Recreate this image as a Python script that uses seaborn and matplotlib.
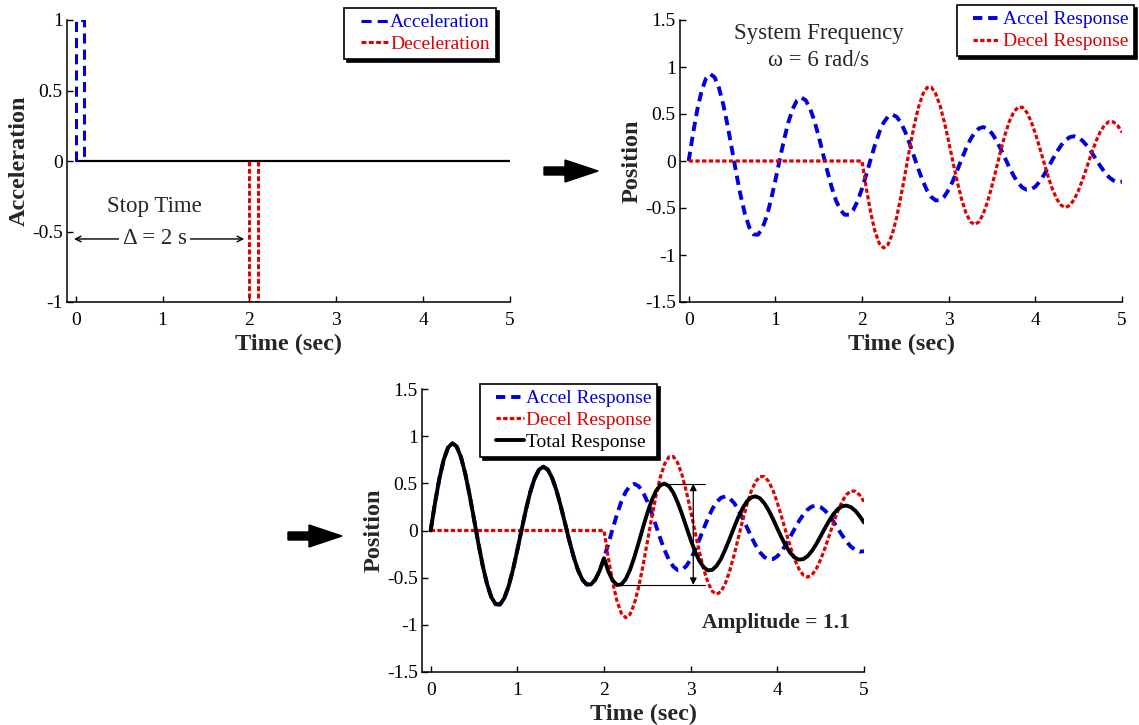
import numpy as np
import pandas as pd
import matplotlib
matplotlib.use("Agg")
import matplotlib.pyplot as plt
import seaborn as sns
from matplotlib.patches import FancyArrow
from matplotlib.ticker import FuncFormatter
from matplotlib.lines import Line2D
from matplotlib.legend_handler import HandlerLine2D

sns.set_style("ticks")
plt.rcParams["font.family"] = ["Liberation Serif", "DejaVu Serif"]
plt.rcParams["axes.unicode_minus"] = False

# ---------------- data ----------------
# acceleration pulses (top-left)
accel_pulse_t = [0.0, 0.0, 0.1, 0.1]
accel_pulse_a = [0.0, 1.0, 1.0, 0.0]
decel_pulse_t = [2.0, 2.0, 2.1, 2.1]
decel_pulse_a = [0.0, -1.0, -1.0, 0.0]
zero_t = [0.0, 5.0]
zero_a = [0.0, 0.0]

# sampled response to the acceleration pulse, every 0.05 s from 0 to 5 s
time_s = np.linspace(0.0, 5.0, 101)
accel_response = [
    0.000, 0.291, 0.548, 0.749, 0.878, 0.925, 0.890, 0.777, 0.599, 0.373,
    0.121, -0.134, -0.370, -0.566, -0.707, -0.781, -0.784, -0.717, -0.590, -0.414,
    -0.207, 0.012, 0.224, 0.410, 0.554, 0.645, 0.676, 0.647, 0.561, 0.429,
    0.263, 0.078, -0.108, -0.279, -0.420, -0.520, -0.572, -0.571, -0.520, -0.425,
    -0.294, -0.142, 0.018, 0.172, 0.306, 0.409, 0.473, 0.494, 0.470, 0.406,
    0.307, 0.185, 0.050, -0.086, -0.210, -0.312, -0.383, -0.419, -0.416, -0.377,
    -0.305, -0.209, -0.097, 0.020, 0.131, 0.228, 0.302, 0.347, 0.361, 0.342,
    0.293, 0.220, 0.129, 0.031, -0.068, -0.158, -0.231, -0.282, -0.306, -0.303,
    -0.273, -0.219, -0.148, -0.066, 0.019, 0.100, 0.170, 0.223, 0.255, 0.263,
    0.248, 0.211, 0.157, 0.091, 0.018, -0.054, -0.119, -0.172, -0.207, -0.224,
    -0.220,
]
stop_time = 2.0
shift = int(round(stop_time / 0.05))
accel_arr = np.array(accel_response)
# deceleration response: same response, inverted, starting at the stop time
decel_response = np.concatenate([np.zeros(shift), -accel_arr[: len(accel_arr) - shift]])
total_response = accel_arr + decel_response

df = pd.DataFrame({"t": time_s, "accel": accel_arr, "decel": decel_response,
                   "total": total_response})

BLUE = "#0000dd"
RED = "#e00000"
DASH_B = (0, (2.4, 1.5))
DASH_R = (0, (1.35, 0.75))

# ---------------- figure ----------------
W, H = 1139, 725
fig = plt.figure(figsize=(W / 100, H / 100), dpi=100)
ax1 = fig.add_axes([67 / W, 1 - 302 / H, 443 / W, 282 / H])
ax2 = fig.add_axes([680 / W, 1 - 302 / H, 442 / W, 282 / H])
ax3 = fig.add_axes([422 / W, 1 - 672 / H, 442 / W, 283 / H])

fmt = FuncFormatter(lambda v, _: f"{v:g}")


def style(ax, ylim, yticks, ylabel):
    ax.set_xlim(-0.1, 5)
    ax.set_ylim(*ylim)
    ax.set_xticks([0, 1, 2, 3, 4, 5])
    ax.set_yticks(yticks)
    ax.xaxis.set_major_formatter(fmt)
    ax.yaxis.set_major_formatter(fmt)
    for s in ["top", "right"]:
        ax.spines[s].set_visible(False)
    for s in ["left", "bottom"]:
        ax.spines[s].set_color("black")
        ax.spines[s].set_linewidth(1.1)
    ax.tick_params(axis="both", direction="in", length=4, width=1.0,
                   colors="black", labelsize=14)
    ax.tick_params(axis="x", pad=7)
    ax.tick_params(axis="y", pad=3)
    ax.set_xlabel("Time (sec)", fontsize=17.5, fontweight="bold", labelpad=4)
    ax.set_ylabel(ylabel, fontsize=17.5, fontweight="bold", labelpad=2)


def legend(ax, loc, anchor):
    leg = ax.legend(loc=loc, bbox_to_anchor=anchor, borderaxespad=0,
                    frameon=True, fancybox=False,
                    shadow={"facecolor": "black", "edgecolor": "black", "alpha": 1.0},
                    edgecolor="black", framealpha=1.0, labelcolor="linecolor",
                    fontsize=14, handlelength=1.95, handletextpad=0.12,
                    borderpad=0.3, labelspacing=0.22,
                    handler_map={Line2D: HandlerLine2D(xpad=0.55)})
    leg.get_frame().set_linewidth(1.2)
    return leg


# ---- top-left: acceleration pulses ----
sns.lineplot(x=zero_t, y=zero_a, ax=ax1, color="black", lw=1.6,
             estimator=None, sort=False)
sns.lineplot(x=accel_pulse_t, y=accel_pulse_a, ax=ax1, color=BLUE, lw=2.2,
             linestyle=(0, (3.3, 2.0)), estimator=None, sort=False, label="Acceleration")
sns.lineplot(x=decel_pulse_t, y=decel_pulse_a, ax=ax1, color=RED, lw=2.2,
             linestyle=(0, (1.6, 0.8)), estimator=None, sort=False, label="Deceleration")
style(ax1, (-1, 1), [-1, -0.5, 0, 0.5, 1], "Acceleration")
legend(ax1, "upper right", (0.968, 1.043))
ax1.annotate("", xy=(-0.02, -0.553), xytext=(1.94, -0.553),
             arrowprops=dict(arrowstyle="<->", lw=1.0, color="black",
                             shrinkA=0, shrinkB=0))
ax1.text(0.91, -0.326, "Stop Time", fontsize=16.5, ha="center", va="center")
ax1.text(0.91, -0.553, "\u0394 = 2 s", fontsize=16.5, ha="center", va="center",
         bbox=dict(facecolor="white", edgecolor="none", pad=2.5))

# ---- top-right: responses ----
sns.lineplot(data=df, x="t", y="accel", ax=ax2, color=BLUE, lw=2.8,
             linestyle=DASH_B, label="Accel Response")
sns.lineplot(data=df, x="t", y="decel", ax=ax2, color=RED, lw=2.3,
             linestyle=DASH_R, label="Decel Response")
style(ax2, (-1.5, 1.5), [-1.5, -1, -0.5, 0, 0.5, 1, 1.5], "Position")
legend(ax2, "upper right", (1.027, 1.053))
ax2.text(1.5, 1.36, "System Frequency", fontsize=16.5, ha="center", va="center")
ax2.text(1.5, 1.07, "\u03c9 = 6 rad/s", fontsize=16.5, ha="center", va="center")

# ---- bottom: total ----
sns.lineplot(data=df, x="t", y="accel", ax=ax3, color=BLUE, lw=2.8,
             linestyle=DASH_B, label="Accel Response")
sns.lineplot(data=df, x="t", y="decel", ax=ax3, color=RED, lw=2.3,
             linestyle=DASH_R, label="Decel Response")
sns.lineplot(data=df, x="t", y="total", ax=ax3, color="black", lw=2.8,
             label="Total Response")
style(ax3, (-1.5, 1.5), [-1.5, -1, -0.5, 0, 0.5, 1, 1.5], "Position")
legend(ax3, "upper left", (0.131, 1.018))

after = df[df.t >= stop_time]
pk = after[(after.t <= 3.0)].loc[lambda d: d.total.idxmax()]
tr = after[(after.t <= 2.5)].loc[lambda d: d.total.idxmin()]
ax3.plot([pk.t, 3.17], [pk.total, pk.total], color="black", lw=0.8)
ax3.plot([tr.t, 3.17], [tr.total, tr.total], color="black", lw=0.8)
ax3.annotate("", xy=(3.03, pk.total), xytext=(3.03, tr.total),
             arrowprops=dict(arrowstyle="<|-|>", lw=0.9, color="black",
                             mutation_scale=10, shrinkA=0, shrinkB=0))
ax3.text(3.98, -0.98, f"Amplitude = {pk.total - tr.total:.1f}", fontsize=15.5,
         fontweight="bold", ha="center", va="center")

# ---- big arrows between panels ----
for x0, x1, xh, yc in [(544, 598, 565, 171), (288, 342, 309, 536)]:
    fig.add_artist(FancyArrow(x0 / W, 1 - yc / H, (x1 - x0) / W, 0,
                              width=8 / H, head_width=22 / H,
                              head_length=(x1 - xh) / W, length_includes_head=True,
                              color="black", transform=fig.transFigure))

fig.savefig("out.png", dpi=100)
